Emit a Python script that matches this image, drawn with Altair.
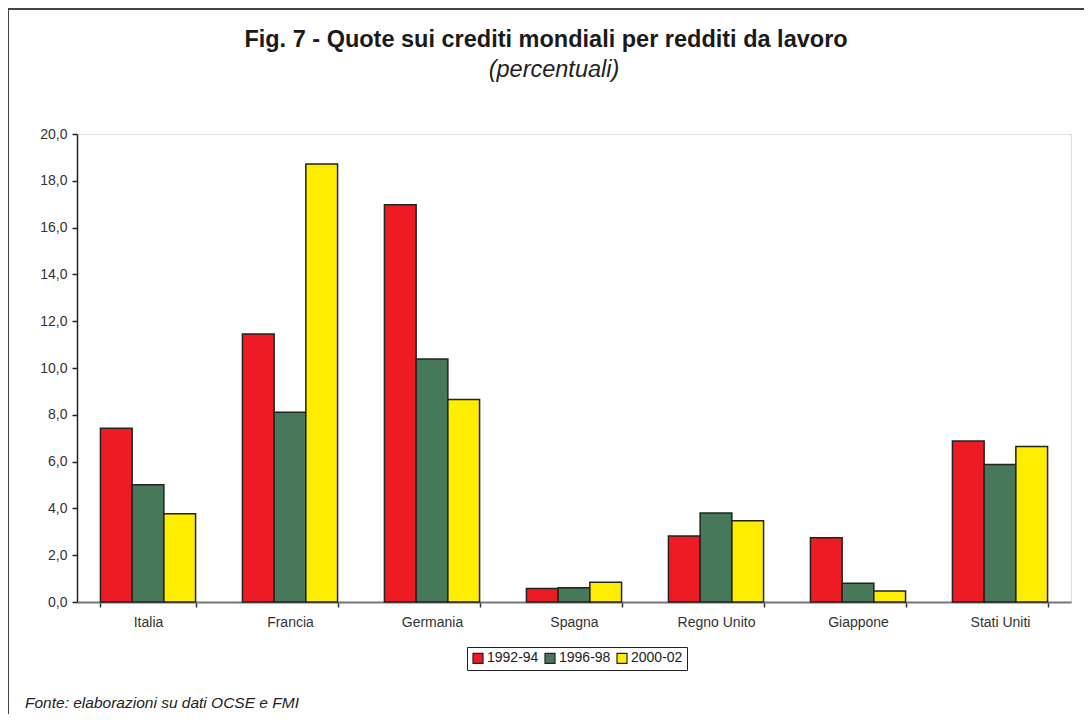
import altair as alt
import pandas as pd

countries = ["Italia", "Francia", "Germania", "Spagna", "Regno Unito", "Giappone", "Stati Uniti"]
periods = ["1992-94", "1996-98", "2000-02"]
v_1992_94 = [7.42, 11.45, 16.98, 0.58, 2.82, 2.75, 6.88]
v_1996_98 = [5.01, 8.11, 10.38, 0.61, 3.80, 0.80, 5.88]
v_2000_02 = [3.77, 18.72, 8.65, 0.84, 3.47, 0.47, 6.65]
colors = ["#ED1C24", "#47785A", "#FFED00"]
y_ticks = [0, 2, 4, 6, 8, 10, 12, 14, 16, 18, 20]

title_text = "Fig. 7 - Quote sui crediti mondiali per redditi da lavoro"
subtitle_text = "(percentuali)"
source_text = "Fonte: elaborazioni su dati OCSE e FMI"

rows = []
for p, vals in zip(periods, [v_1992_94, v_1996_98, v_2000_02]):
    for c, v in zip(countries, vals):
        rows.append({"paese": c, "periodo": p, "valore": v})
df = pd.DataFrame(rows)

FONT = "Liberation Sans"

bars = alt.Chart(df).mark_bar(stroke="#222222", strokeWidth=1.5).encode(
    x=alt.X("paese:N", sort=countries,
            scale=alt.Scale(paddingInner=0.33, paddingOuter=0.165),
            axis=alt.Axis(title=None, labelAngle=0, tickBand="extent",
                          domainColor="#777777", domainWidth=2,
                          tickColor="#333333", tickSize=5, tickWidth=1.5,
                          labelFontSize=14, labelColor="#333333", labelFont=FONT,
                          labelPadding=8)),
    xOffset=alt.XOffset("periodo:N", sort=periods,
                        scale=alt.Scale(paddingInner=0, paddingOuter=0)),
    y=alt.Y("valore:Q", scale=alt.Scale(domain=[0, 20], nice=False),
            axis=alt.Axis(title=None, values=y_ticks, grid=False,
                          labelExpr="replace(format(datum.value, '.1f'), '.', ',')",
                          domainColor="#222222", domainWidth=1.5,
                          tickColor="#222222", tickSize=5, tickWidth=1.5,
                          labelFontSize=14, labelColor="#333333", labelFont=FONT,
                          labelPadding=5)),
    color=alt.Color("periodo:N",
                    scale=alt.Scale(domain=periods, range=colors),
                    legend=alt.Legend(title=None, orient="none", legendX=390, legendY=513,
                                      direction="horizontal", symbolType="square",
                                      symbolSize=100, symbolStrokeColor="#222222",
                                      symbolStrokeWidth=1.2, labelFontSize=14,
                                      labelFont=FONT, labelColor="#222222",
                                      columnPadding=3, labelOffset=2,
                                      strokeColor="#222222", padding=4)),
)

one = pd.DataFrame({"k": [0]})
frame_left = alt.Chart(one).mark_rule(color="#444444", strokeWidth=2).encode(
    x=alt.value(-69), y=alt.value(-126), y2=alt.value(600))
frame_top = alt.Chart(one).mark_rule(color="#444444", strokeWidth=2).encode(
    x=alt.value(-69), x2=alt.value(1010), y=alt.value(-125))
title = alt.Chart(one).mark_text(
    text=title_text, align="center", baseline="alphabetic",
    fontWeight="bold", fontSize=23.5, font=FONT, color="#1a1a1a").encode(
    x=alt.value(469), y=alt.value(-87))
subtitle = alt.Chart(one).mark_text(
    text=subtitle_text, align="center", baseline="alphabetic",
    fontStyle="italic", fontSize=23.5, font=FONT, color="#222222").encode(
    x=alt.value(477), y=alt.value(-57))
footnote = alt.Chart(one).mark_text(
    text=source_text, align="left", baseline="middle",
    fontStyle="italic", fontSize=15.5, font=FONT, color="#222222").encode(
    x=alt.value(-52), y=alt.value(569))

chart = alt.layer(bars, frame_left, frame_top, title, subtitle, footnote).properties(
    width=994, height=468,
    padding={"left": 69, "top": 126, "right": 13, "bottom": 112},
    autosize=alt.AutoSizeParams(type="none"),
).configure_view(stroke="#999999", strokeWidth=2).configure(background="white")

chart.save("out.html", embed_options={"renderer": "svg", "actions": False})
